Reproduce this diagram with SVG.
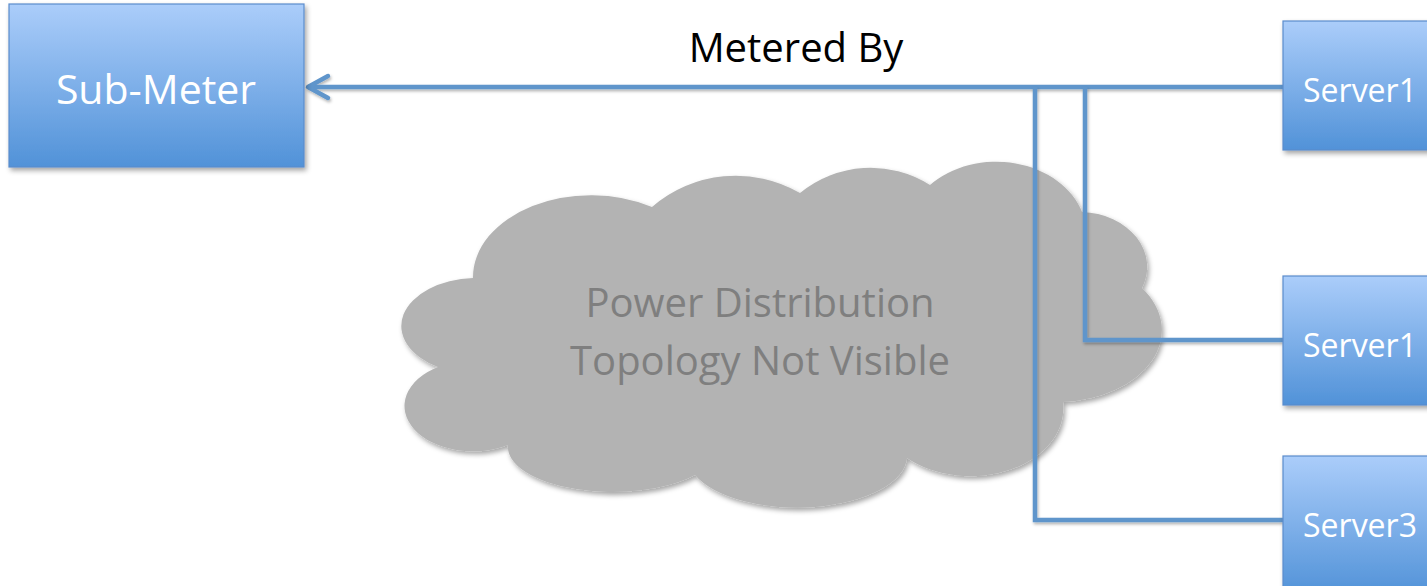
<svg xmlns="http://www.w3.org/2000/svg" width="1427" height="586" viewBox="0 0 1427 586">
<style>
.box{fill:url(#blueGrad);stroke:#5a8ccc;stroke-width:1.2;filter:url(#shadow)}
.lbl{font-family:"Open Sans","Liberation Sans",sans-serif;fill:#ffffff;text-anchor:middle}
.conn{fill:none;stroke:#5f95cb;stroke-width:4.5;filter:url(#lshadow)}
.ctext{font-family:"Open Sans","Liberation Sans",sans-serif;fill:#7f7f7f;font-size:40px;text-anchor:middle}
</style>
<defs>
<linearGradient id="blueGrad" x1="0" y1="0" x2="0" y2="1">
<stop offset="0" stop-color="#abcdfa"/>
<stop offset="1" stop-color="#5192d8"/>
</linearGradient>
<filter id="shadow" x="-10%" y="-10%" width="130%" height="130%">
<feDropShadow dx="2" dy="3" stdDeviation="2.5" flood-color="#000" flood-opacity="0.35"/>
</filter>
<filter id="lshadow" filterUnits="userSpaceOnUse" x="0" y="0" width="1427" height="586">
<feDropShadow dx="1" dy="2" stdDeviation="1.5" flood-color="#000" flood-opacity="0.3"/>
</filter>
<marker id="arrow" markerUnits="userSpaceOnUse" markerWidth="30" markerHeight="30" refX="24" refY="13" orient="auto" overflow="visible">
<path d="M4 2 L24 13 L4 24" fill="none" stroke="#5f95cb" stroke-width="4.5" stroke-linecap="round" stroke-linejoin="round"/>
</marker>
</defs>
<rect width="1427" height="586" fill="#ffffff"/>

<g id="cloud">
<path filter="url(#shadow)" fill="#b3b3b3" d="M473 278 A118 82 0 0 1 652 207 A128 128 0 0 1 800 193 A111 111 0 0 1 930 185 A90 72 0 0 1 1082 212 A68 55 0 0 1 1142 288 A105 72 0 0 1 1063 402 A93 68 0 0 1 907 458 A110 52 0 0 1 695 475 A105 45 0 0 1 508 445 A68 45 0 0 1 438 367 A76 48 0 0 1 473 278 Z"/>
<text class="ctext" x="760" y="317">Power Distribution</text>
<text class="ctext" x="760" y="375">Topology Not Visible</text>
</g>

<g id="connectors">
<polyline class="conn" points="1283,87 308,87" marker-end="url(#arrow)"/>
<polyline class="conn" points="1283,340 1085,340 1085,87"/>
<polyline class="conn" points="1283,520 1035,520 1035,87"/>
</g>

<g id="label-metered">
<text x="796" y="62" font-family="'Open Sans','Liberation Sans',sans-serif" font-size="40" fill="#000000" text-anchor="middle">Metered By</text>
</g>

<g id="sub-meter">
<rect class="box" x="9" y="4" width="295" height="163"/>
<text class="lbl" x="156" y="104" font-size="41">Sub-Meter</text>
</g>

<g id="server1a">
<rect class="box" x="1283" y="21" width="156" height="129"/>
<text class="lbl" x="1360" y="102" font-size="32">Server1</text>
</g>

<g id="server1b">
<rect class="box" x="1283" y="276" width="156" height="129"/>
<text class="lbl" x="1360" y="357" font-size="32">Server1</text>
</g>

<g id="server3">
<rect class="box" x="1283" y="456" width="156" height="140"/>
<text class="lbl" x="1360" y="537" font-size="32">Server3</text>
</g>
</svg>
